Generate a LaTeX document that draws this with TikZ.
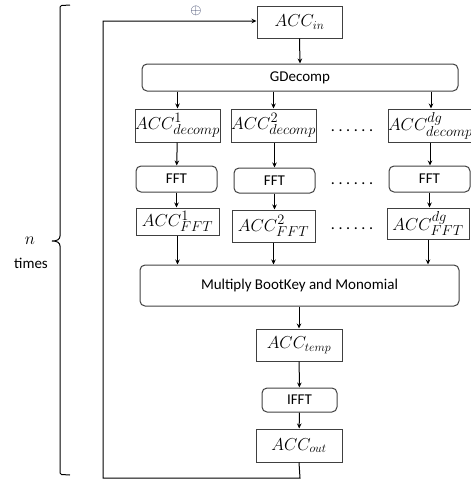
\documentclass[tikz,border=0pt]{standalone}
\usepackage{fontspec}
\setmainfont{Carlito}
\usetikzlibrary{arrows.meta}
\DeclareMathSizes{16}{16}{13}{10}
\DeclareMathSizes{17}{17}{14}{10}
\DeclareMathSizes{16.5}{16.5}{14}{10}
\definecolor{plusblue}{RGB}{40,50,90}
\tikzset{
  box/.style={draw=black!75, line width=1pt, inner sep=0pt, font=\fontsize{16}{18}\selectfont},
  dbox/.style={box, font=\fontsize{17}{19}\selectfont},
  fbox/.style={box, font=\fontsize{16.5}{19}\selectfont},
  rbox/.style={box, rounded corners=5pt, font=\fontsize{15}{17}\selectfont},
  arr/.style={-{Stealth[length=5pt,width=4.5pt]}, line width=1pt, black},
  ln/.style={line width=1pt, black},
  dotsn/.style={inner sep=0pt, anchor=base, font=\fontsize{16}{18}\selectfont}
}
\newcommand{\sixdots}{.\hspace{3.6pt}.\hspace{3.6pt}.\hspace{3.6pt}.\hspace{3.6pt}.\hspace{3.6pt}.}
\begin{document}
\begin{tikzpicture}[x=1pt,y=-1pt]
\useasboundingbox (0,0) rectangle (471,480);
% nodes
\node[box, minimum width=85pt, minimum height=32pt] (accin) at (299.5,22) {$ACC_{in}$};
\node[rbox, minimum width=316pt, minimum height=27pt] (gdec) at (300,77.5) {GDecomp};
\node[dbox, minimum width=85pt, minimum height=33pt] (d1) at (177.5,125.5) {$ACC^{1}_{decomp}$};
\node[dbox, minimum width=85pt, minimum height=33pt] (d2) at (273.5,125.5) {$ACC^{2}_{decomp}$};
\node[dbox, minimum width=84pt, minimum height=33pt, text width=84pt, align=left] (d3) at (430,125.5) {\hspace{1pt}$ACC^{dg}_{decomp}$};
\node[rbox, minimum width=81pt, minimum height=26pt] (f1) at (176.5,179) {FFT};
\node[rbox, minimum width=81pt, minimum height=25pt] (f2) at (274.5,180.5) {FFT};
\node[rbox, minimum width=81pt, minimum height=26pt] (f3) at (429.5,179) {FFT};
\node[fbox, minimum width=83pt, minimum height=27pt] (a1) at (177.5,221.5) {$ACC^{1}_{FFT}$};
\node[fbox, minimum width=83pt, minimum height=32pt] (a2) at (273.5,226) {$ACC^{2}_{FFT}$};
\node[fbox, minimum width=82pt, minimum height=31pt] (a3) at (428,223.5) {$ACC^{dg}_{FFT}$};
\node[rbox, minimum width=319pt, minimum height=41pt] (mult) at (299.5,285.5) {Multiply BootKey and Monomial};
\node[box, minimum width=86pt, minimum height=32pt] (temp) at (299,345) {$ACC_{temp}$};
\node[rbox, minimum width=75pt, minimum height=24pt] (ifft) at (299.5,400) {IFFT};
\node[box, minimum width=86pt, minimum height=33pt] (out) at (299,445.5) {$ACC_{out}$};
% dots
\node[dotsn] (dots1) at (352,131) {\sixdots};
\node[dotsn] (dots2) at (352,184.5) {\sixdots};
\node[dotsn] (dots3) at (352,229.5) {\sixdots};
% oplus
\node[inner sep=0pt, text=plusblue, font=\fontsize{14}{14}\selectfont] (plus) at (196,11) {$\oplus$};
% connectors
\draw[arr] (accin.south) -- (gdec.north);
\draw[arr] (d1.north |- gdec.south) -- (d1.north);
\draw[arr] (d2.north |- gdec.south) -- (d2.north);
\draw[arr] ([xshift=1pt]d3.north |- gdec.south) -- ([xshift=1pt]d3.north);
\draw[arr] (d1) -- (f1);
\draw[arr] ([xshift=1pt]d2.south) -- ([xshift=1pt]d2.south |- f2.north);
\draw[arr] (d3) -- (d3 |- f3.north);
\draw[arr] (f1.south) -- (f1.south |- a1.north);
\draw[arr] (f2.south) -- (f2.south |- a2.north);
\draw[arr] (f3.south) -- (f3.south |- a3.north);
\draw[arr] (a1.south) -- (a1.south |- mult.north);
\draw[arr] (a2.south) -- (a2.south |- mult.north);
\draw[arr] (a3.south) -- (a3.south |- mult.north);
\draw[arr] (temp.north |- mult.south) -- (temp.north);
\draw[arr] (temp) -- (ifft);
\draw[arr] (ifft) -- (out);
% feedback
\coordinate (fb1) at (300,478);
\coordinate (fb2) at (103,478);
\coordinate (fb3) at (103,21);
\draw[arr] (out.south) -- (fb1) -- (fb2) -- (fb3) -- (fb3 -| accin.west);
% bracket
\draw[ln] (70,5) -- (61.5,5.5) -- (60,7) -- (60,236) .. controls (60,239.5) and (57,241) .. (52,241)
  .. controls (57,241) and (60,242.5) .. (60,246) -- (60,473) -- (61.5,474.5) -- (70,475);
\node[inner sep=0pt, font=\fontsize{16}{18}\selectfont] (nlab) at (30,241) {$n$};
\node[inner sep=0pt, font=\fontsize{15}{17}\selectfont] (tlab) at (31,263) {times};
\end{tikzpicture}
\end{document}
